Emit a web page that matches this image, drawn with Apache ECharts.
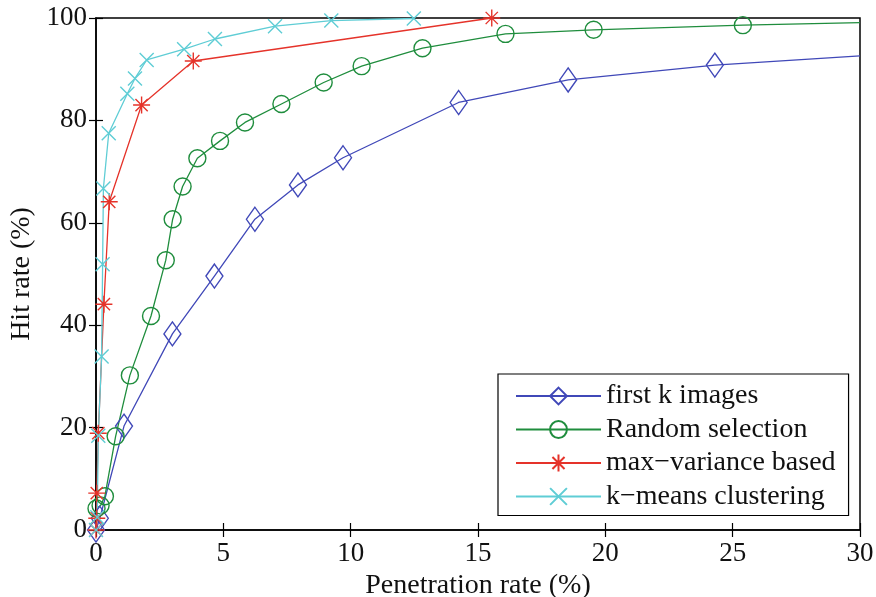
<!DOCTYPE html>
<html>
<head>
<meta charset="utf-8">
<script src="https://cdn.jsdelivr.net/npm/echarts@6/dist/echarts.min.js"></script>
<style>
  html, body { margin: 0; padding: 0; background: #fff; }
  #chart { width: 876px; height: 597px; }
</style>
</head>
<body>
<div id="chart"></div>
<script>
// 图例名称
const seriesNames = ['first k images', 'Random selection', 'max\u2212variance based', 'k\u2212means clustering'];

// first k images
const firstKX = [0, 0.15, 1.1, 3.0, 4.65, 6.24, 7.93, 9.7, 14.24, 18.54, 24.3, 30];
const firstKY = [0, 2.3, 20.3, 38.3, 49.6, 60.7, 67.4, 72.7, 83.5, 87.9, 90.8, 92.6];

// Random selection
const randomX = [0.02, 0.18, 0.35, 0.77, 1.33, 2.16, 2.74, 3.01, 3.4, 3.98, 4.87, 5.85, 7.28, 8.94, 10.43, 12.82, 16.08, 19.54, 25.4, 30];
const randomY = [4.2, 4.8, 6.6, 18.3, 30.2, 41.8, 52.7, 60.7, 67.1, 72.6, 76.0, 79.6, 83.2, 87.4, 90.6, 94.1, 96.9, 97.7, 98.6, 99.1];

// max-variance based
const maxVarX = [0, 0.03, 0.03, 0.09, 0.31, 0.52, 1.79, 3.82, 15.54];
const maxVarY = [0, 2.3, 7.2, 18.9, 44.1, 64.1, 83.0, 91.6, 100];

// k-means clustering
const kmeansX = [0, 0.05, 0.09, 0.22, 0.26, 0.29, 0.5, 1.23, 1.53, 1.99, 3.46, 4.67, 7.03, 9.24, 12.48];
const kmeansY = [0, 2.5, 18.4, 33.9, 51.9, 66.7, 77.5, 85.2, 88.2, 91.8, 93.9, 95.9, 98.4, 99.5, 99.9];

const xTicks = { min: 0, max: 30, step: 5 };
const yTicks = { min: 0, max: 100, step: 20 };

const colors = ['#4048b8', '#1f8d3d', '#e5332a', '#5fcdd5'];
const symbols = [
  'diamond',
  'circle',
  'path://M0,-1L0,1M-1,0L1,0M-0.72,-0.72L0.72,0.72M-0.72,0.72L0.72,-0.72',
  'path://M-1,-1L1,1M-1,1L1,-1'
];
const symbolSizes = [[17, 24], 17, 17, 14];
const serif = '"Liberation Serif", "DejaVu Serif", serif';

function pairUp(xs, ys) {
  // 最后落在边框上的点只画线，不画标记
  return xs.map((x, i) => {
    if (x >= xTicks.max) {
      return { value: [x, ys[i]], symbol: 'none' };
    }
    return [x, ys[i]];
  });
}

const allX = [firstKX, randomX, maxVarX, kmeansX];
const allY = [firstKY, randomY, maxVarY, kmeansY];

let myChart = echarts.init(document.getElementById('chart'));

let tickStyle = { show: true, inside: true, length: 7, lineStyle: { color: '#000', width: 1.2 } };

let option = {
  animation: false,
  backgroundColor: '#fff',
  textStyle: { fontFamily: serif },
  grid: {
    left: 96,
    right: 16,
    top: 18,
    bottom: 67,
    outerBoundsMode: 'none',
    containLabel: false,
    show: true,
    borderColor: '#000',
    borderWidth: 1.5,
    backgroundColor: 'transparent'
  },
  legend: {
    orient: 'vertical',
    left: 498,
    top: 374,
    backgroundColor: '#fff',
    borderColor: '#000',
    borderWidth: 1.2,
    borderRadius: 0,
    padding: [8, 13, 5, 17],
    itemWidth: 85,
    itemHeight: 21,
    itemGap: 5.5,
    textStyle: {
      fontFamily: serif,
      fontSize: 28,
      color: '#111'
    },
    data: seriesNames
  },
  xAxis: [{
    type: 'value',
    min: xTicks.min,
    max: xTicks.max,
    interval: xTicks.step,
    name: 'Penetration rate (%)',
    nameLocation: 'middle',
    nameGap: 38,
    nameTextStyle: { fontFamily: serif, fontSize: 28, color: '#111' },
    axisLine: { show: true, lineStyle: { color: '#000', width: 1.5 } },
    axisTick: tickStyle,
    axisLabel: { fontFamily: serif, fontSize: 27, color: '#111', margin: 10 },
    splitLine: { show: false }
  }, {
    type: 'value',
    position: 'top',
    min: xTicks.min,
    max: xTicks.max,
    interval: xTicks.step,
    axisLine: { show: false },
    axisTick: tickStyle,
    axisLabel: { show: false },
    splitLine: { show: false }
  }],
  yAxis: [{
    type: 'value',
    min: yTicks.min,
    max: yTicks.max,
    interval: yTicks.step,
    name: 'Hit rate (%)',
    nameLocation: 'middle',
    nameGap: 59,
    nameTextStyle: { fontFamily: serif, fontSize: 28, color: '#111' },
    axisLine: { show: true, lineStyle: { color: '#000', width: 1.5 } },
    axisTick: tickStyle,
    axisLabel: { fontFamily: serif, fontSize: 27, color: '#111', margin: 9 },
    splitLine: { show: false }
  }, {
    type: 'value',
    position: 'right',
    min: yTicks.min,
    max: yTicks.max,
    interval: yTicks.step,
    axisLine: { show: false },
    axisTick: tickStyle,
    axisLabel: { show: false },
    splitLine: { show: false }
  }],
  series: []
};

for (let i = 0; i < seriesNames.length; i++) {
  option.series.push({
    name: seriesNames[i],
    type: 'line',
    xAxisIndex: 0,
    yAxisIndex: 0,
    showAllSymbol: true,
    symbol: symbols[i],
    symbolSize: symbolSizes[i],
    clip: true,
    lineStyle: { color: colors[i], width: 1.3 },
    itemStyle: { color: 'rgba(0,0,0,0)', borderColor: colors[i], borderWidth: 1.4 },
    emphasis: { disabled: true },
    data: pairUp(allX[i], allY[i])
  });
}

myChart.setOption(option, true);
</script>
</body>
</html>
